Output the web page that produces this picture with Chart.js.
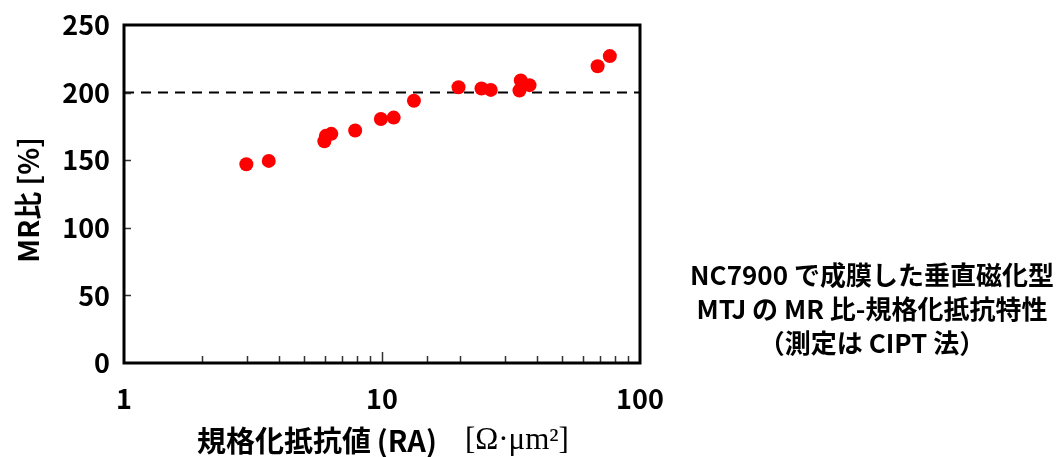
<!DOCTYPE html>
<html lang="ja">
<head>
<meta charset="utf-8">
<title>MR比 - 規格化抵抗特性</title>
<script src="https://cdn.jsdelivr.net/npm/chart.js@4.4.1/dist/chart.umd.min.js"></script>
<style>
    html, body { margin: 0; padding: 0; background: #fff; }
    #wrap { width: 1056px; height: 457px; }
</style>
</head>
<body>
<div id="wrap"><canvas id="mrChart" width="1056" height="457"></canvas></div>
<script>
// RA [Ω·μm²] and MR ratio [%]
const raValues = [2.98, 3.64, 5.98, 6.06, 6.36, 7.87, 9.9, 11.1, 13.3, 19.8, 24.3, 26.4, 34.1, 34.5, 37.3, 68.5, 76.4];
const mrValues = [147, 149.5, 164, 168, 169.5, 172, 180.5, 181.5, 194, 204, 203, 202, 201.5, 209, 205.5, 219.5, 227];
const refLevel = 200;
const xLabeled = [1, 10, 100];
const yRange = [0, 250];
const yStep = 50;

const yTitle = 'MR比 [%]';
const xTitleMain = '規格化抵抗値\u2009(RA)';
const xTitleUnit = '[Ω·μm²]';
const noteLines = [
    'NC7900 で成膜した垂直磁化型',
    'MTJ の MR 比-規格化抵抗特性',
    '（測定は CIPT 法）'
];

const FONT = '"Noto Sans CJK JP", "Noto Sans", sans-serif';
const SERIF = '"Liberation Serif", "DejaVu Serif", serif';

/**
 * Inward tick marks and the heavy frame round the plot
 */
const framePlugin = {
    id: 'frame',
    afterDraw(chart) {
        const ctx = chart.ctx;
        const area = chart.chartArea;
        const xs = chart.scales.x;
        const ys = chart.scales.y;

        ctx.save();
        ctx.strokeStyle = '#333';
        ctx.lineWidth = 1.5;
        ctx.beginPath();
        xs.ticks.forEach(t => {
            if (t.value <= xs.min || t.value >= xs.max) return;
            const px = Math.round(xs.getPixelForValue(t.value)) + 0.5;
            const len = t.value === 10 ? 11 : 7;
            ctx.moveTo(px, area.bottom);
            ctx.lineTo(px, area.bottom - len);
        });
        ys.ticks.forEach(t => {
            if (t.value <= ys.min || t.value >= ys.max) return;
            const py = Math.round(ys.getPixelForValue(t.value)) + 0.5;
            ctx.moveTo(area.left, py);
            ctx.lineTo(area.left + 7, py);
        });
        ctx.stroke();

        ctx.strokeStyle = '#000';
        ctx.lineWidth = 3;
        ctx.strokeRect(area.left, area.top, area.right - area.left, area.bottom - area.top);
        ctx.restore();
    }
};

/**
 * Axis titles and the caption on the right
 */
const textPlugin = {
    id: 'texts',
    afterDraw(chart) {
        const ctx = chart.ctx;
        const area = chart.chartArea;
        ctx.save();
        ctx.fillStyle = '#000';
        ctx.textBaseline = 'middle';

        // y title
        ctx.save();
        ctx.translate(28, (area.top + area.bottom) / 2 + 6);
        ctx.rotate(-Math.PI / 2);
        ctx.textAlign = 'center';
        ctx.font = 'bold 28px ' + FONT;
        ctx.fillText(yTitle, 0, 0);
        ctx.restore();

        // x title, two fonts
        ctx.textAlign = 'left';
        ctx.font = 'bold 29px ' + FONT;
        const w1 = ctx.measureText(xTitleMain).width;
        ctx.font = '31px ' + SERIF;
        const w2 = ctx.measureText(xTitleUnit).width;
        const gap = 28;
        const x0 = (area.left + area.right) / 2 + 1 - (w1 + gap + w2) / 2;
        ctx.font = 'bold 29px ' + FONT;
        ctx.fillText(xTitleMain, x0, 441);
        ctx.font = '31px ' + SERIF;
        ctx.fillText(xTitleUnit, x0 + w1 + gap, 441);

        // caption
        ctx.textAlign = 'center';
        ctx.font = 'bold 26px ' + FONT;
        noteLines.forEach((line, i) => {
            ctx.fillText(line, 872, 275 + i * 34);
        });
        ctx.restore();
    }
};

document.addEventListener('DOMContentLoaded', function() {
    const points = raValues.map((ra, i) => ({ x: ra, y: mrValues[i] }));

    new Chart(document.getElementById('mrChart'), {
        type: 'scatter',
        data: {
            datasets: [{
                label: 'MR',
                data: points,
                pointRadius: 7,
                pointHoverRadius: 7,
                backgroundColor: '#ff0000',
                borderWidth: 0
            }, {
                type: 'line',
                label: '200%',
                data: [{ x: 1, y: refLevel }, { x: 100, y: refLevel }],
                showLine: true,
                pointRadius: 0,
                borderColor: '#000',
                borderWidth: 2,
                borderDash: [10, 7]
            }]
        },
        options: {
            responsive: false,
            animation: false,
            devicePixelRatio: 1,
            layout: { padding: { left: 0, top: 25, right: 416, bottom: 0 } },
            plugins: {
                legend: { display: false },
                tooltip: { enabled: false }
            },
            scales: {
                x: {
                    type: 'logarithmic',
                    min: 1,
                    max: 100,
                    afterFit: s => {
                        s.height = 94;
                        s.paddingLeft = 0;
                        s.paddingRight = 0;
                    },
                    grid: { display: false, drawTicks: false },
                    border: { display: false },
                    ticks: {
                        autoSkip: false,
                        maxRotation: 0,
                        padding: 20,
                        color: '#000',
                        font: { family: FONT, size: 27, weight: 'bold' },
                        callback: v => xLabeled.includes(v) ? String(v) : ''
                    }
                },
                y: {
                    min: yRange[0],
                    max: yRange[1],
                    afterFit: s => {
                        s.width = 124;
                        s.paddingTop = 0;
                        s.paddingBottom = 0;
                    },
                    grid: { display: false, drawTicks: false },
                    border: { display: false },
                    ticks: {
                        stepSize: yStep,
                        padding: 14,
                        color: '#000',
                        font: { family: FONT, size: 27, weight: 'bold' }
                    }
                }
            }
        },
        plugins: [framePlugin, textPlugin]
    });
});
</script>
</body>
</html>
